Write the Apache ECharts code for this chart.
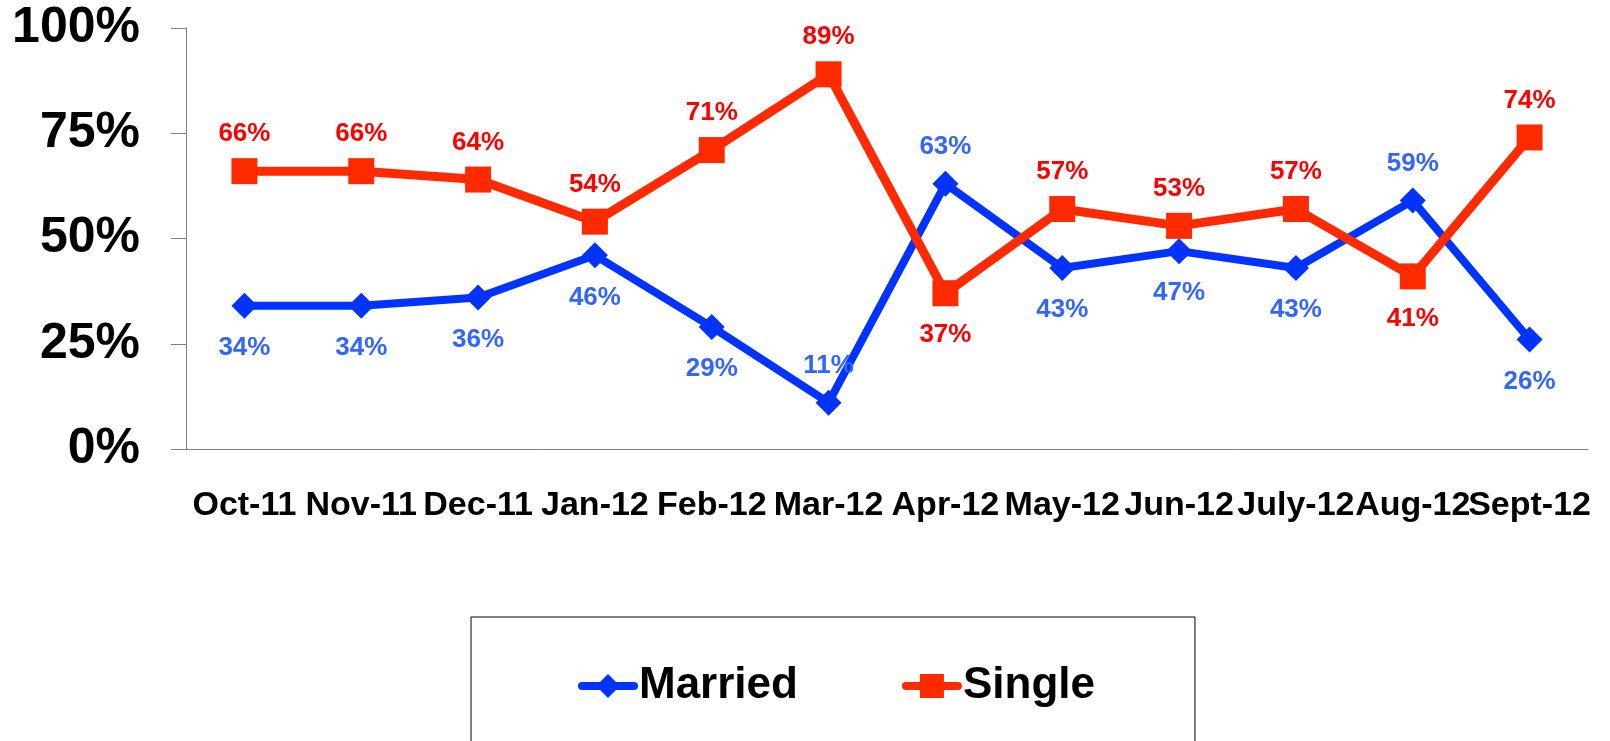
<!DOCTYPE html>
<html>
<head>
<meta charset="utf-8">
<script src="https://cdn.jsdelivr.net/npm/echarts@6/dist/echarts.min.js"></script>
<style>
  html, body { margin: 0; padding: 0; background: #fff; }
  #main { width: 1610px; height: 741px; }
</style>
</head>
<body>
<div id="main"></div>
<script>
// chart data
const months = ["Oct-11", "Nov-11", "Dec-11", "Jan-12", "Feb-12", "Mar-12",
  "Apr-12", "May-12", "Jun-12", "July-12", "Aug-12", "Sept-12"];
const married = [34, 34, 36, 46, 29, 11, 63, 43, 47, 43, 59, 26];
const single = [66, 66, 64, 54, 71, 89, 37, 57, 53, 57, 41, 74];
const yTicks = [0, 25, 50, 75, 100];

// months where the label flips side
const marriedUp = ["Mar-12", "Apr-12", "Aug-12"];
const singleDown = ["Apr-12", "Aug-12"];

const FONT = "'Liberation Sans', Arial, sans-serif";

function points(values, flips, normal, flipped) {
  return values.map((v, i) => {
    const pos = flips.includes(months[i]) ? flipped : normal;
    return { value: v, label: { position: pos, distance: pos === "top" ? 11 : 16 } };
  });
}

const mychart = echarts.init(document.getElementById("main"));
mychart.setOption({
  animation: false,
  grid: { left: 186, right: 22, top: 28, bottom: 292 },
  legend: {
    left: 471,
    top: 617,
    selectedMode: false,
    borderColor: "#000",
    borderWidth: 1,
    padding: [47, 100, 80, 107],
    itemGap: 104,
    itemWidth: 52,
    itemHeight: 30,
    lineStyle: { width: 8, cap: "round" },
    textStyle: { fontFamily: FONT, fontWeight: "bold", fontSize: 44, color: "#000" },
    data: ["Married", "Single"]
  },
  xAxis: {
    type: "category",
    data: months,
    axisLine: { lineStyle: { color: "#808080", width: 1 } },
    axisTick: { length: 10, lineStyle: { color: "#808080" } },
    axisLabel: {
      interval: 0,
      margin: 40,
      color: "#000",
      fontFamily: FONT,
      fontWeight: "bold",
      fontSize: 34
    }
  },
  yAxis: {
    type: "value",
    min: yTicks[0],
    max: yTicks[yTicks.length - 1],
    interval: 25,
    splitLine: { show: false },
    axisLine: { show: true, lineStyle: { color: "#808080", width: 1 } },
    axisTick: { show: true, length: 15, lineStyle: { color: "#808080" } },
    axisLabel: {
      margin: 46,
      color: "#000",
      fontFamily: FONT,
      fontWeight: "bold",
      fontSize: 50,
      formatter: "{value}%"
    }
  },
  series: [
    {
      name: "Married",
      type: "line",
      symbol: "diamond",
      symbolSize: 26,
      lineStyle: { color: "#0033ff", width: 8 },
      itemStyle: { color: "#0033ff" },
      label: {
        show: true,
        formatter: "{c}%",
        color: "#3366ff",
        fontFamily: FONT,
        fontWeight: "bold",
        fontSize: 26
      },
      data: points(married, marriedUp, "bottom", "top")
    },
    {
      name: "Single",
      type: "line",
      symbol: "rect",
      symbolSize: 26,
      lineStyle: { color: "#ff2a00", width: 9 },
      itemStyle: { color: "#ff2a00" },
      label: {
        show: true,
        formatter: "{c}%",
        color: "#ff0000",
        fontFamily: FONT,
        fontWeight: "bold",
        fontSize: 26
      },
      data: points(single, singleDown, "top", "bottom")
    }
  ]
});
</script>
</body>
</html>
